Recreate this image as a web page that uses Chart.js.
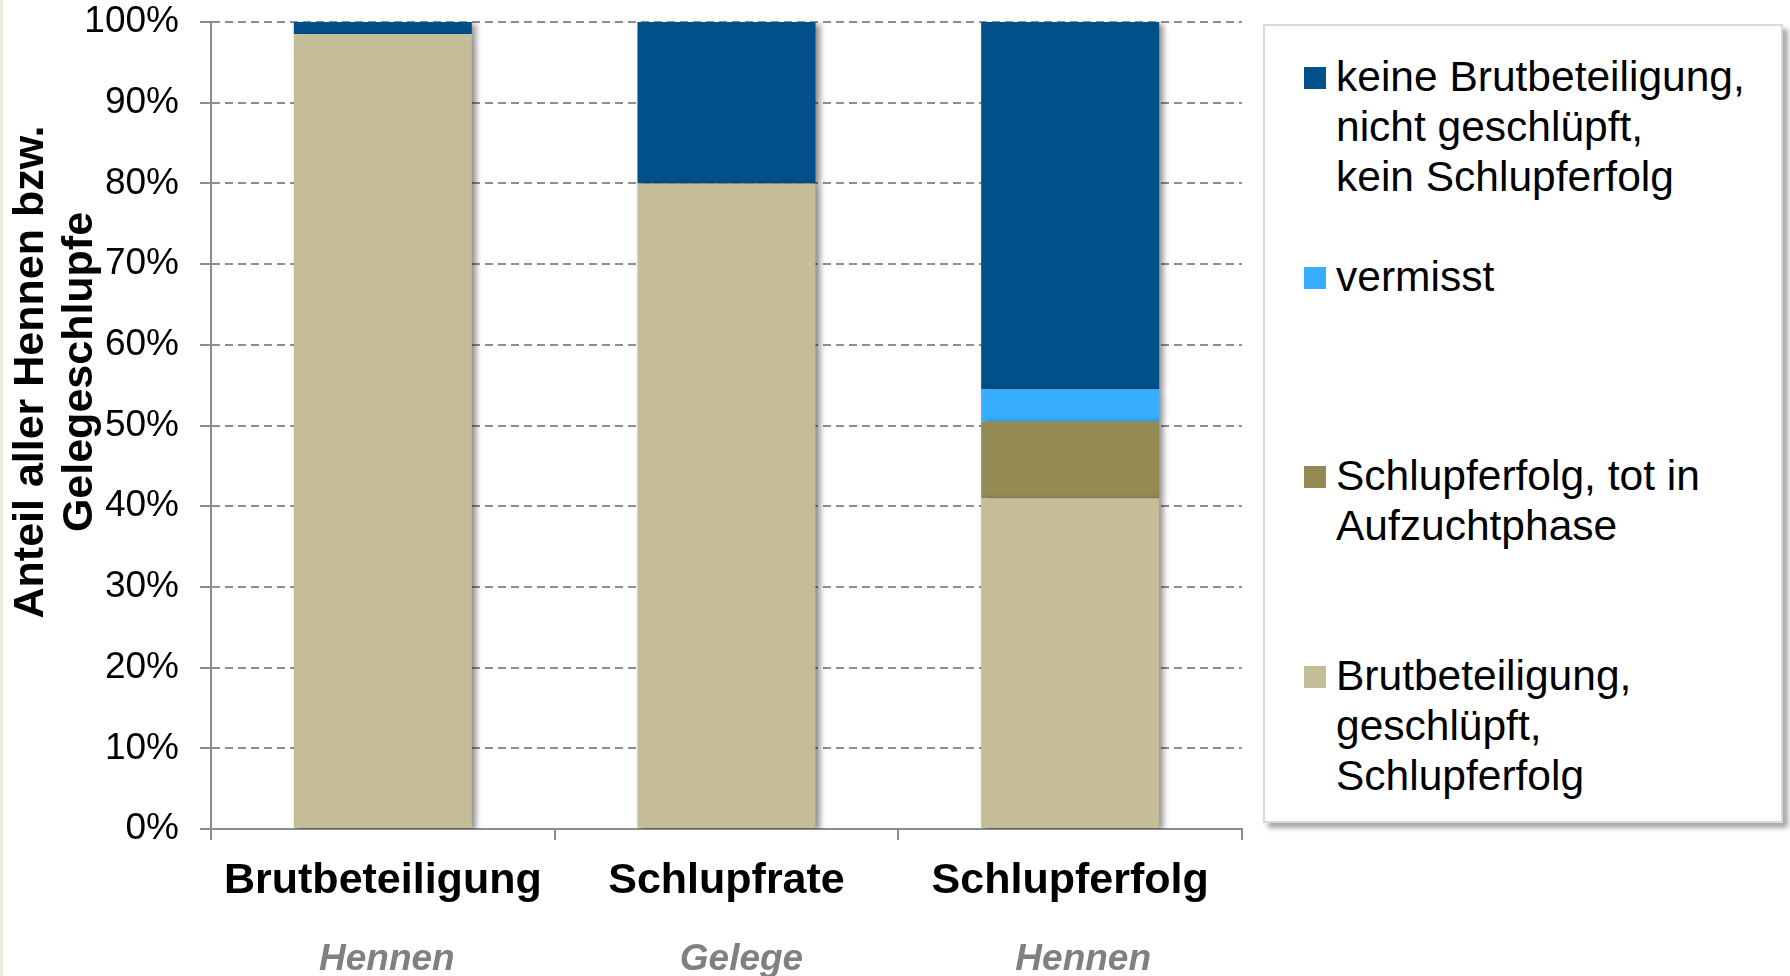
<!DOCTYPE html>
<html>
<head>
<meta charset="utf-8">
<script src="https://cdn.jsdelivr.net/npm/chart.js@4/dist/chart.umd.min.js"></script>
<style>
  html, body { margin: 0; padding: 0; background: #ffffff; }
  #wrap { position: relative; width: 1790px; height: 976px; overflow: hidden; background: #ffffff; font-family: 'Liberation Sans', Arial, sans-serif; }
  #stripe { position: absolute; left: 0; top: 0; width: 3px; height: 976px; background: #efebe0; }
  #legendBox { position: absolute; left: 1263px; top: 24px; width: 520px; height: 799px; box-sizing: border-box; border: 2px solid #d9d9d9; background: #fff; box-shadow: 5px 5px 5px rgba(0,0,0,0.35); }
  .lg-item { position: absolute; left: 1304px; }
  .lg-sw { position: absolute; left: 0; top: 15px; width: 22px; height: 22px; }
  .lg-txt { position: absolute; left: 32px; top: 0; font-size: 42.5px; line-height: 50px; color: #000; white-space: nowrap; }
  #chartBox { position: absolute; left: 0; top: 0; width: 1790px; height: 976px; }
</style>
</head>
<body>
<div id="wrap">
  <div id="stripe"></div>
  <div id="legendBox"></div>
  <div id="legend"></div>
  <div id="chartBox"><canvas id="c" width="1790" height="976"></canvas></div>
</div>
<script>
// ---- data ----
const categories = ['Brutbeteiligung', 'Schlupfrate', 'Schlupferfolg'];
const subLabels = ['Hennen', 'Gelege', 'Hennen'];
const yTickStep = 10;
const yMin = 0;
const yMax = 100;

const brutGeschluepftErfolg = [98.5, 80, 41];
const totInAufzucht = [0, 0, 9.5];
const vermisst = [0, 0, 4];
const keineBrutbeteiligung = [1.5, 20, 45.5];

const labelBrutGeschluepft = ['Brutbeteiligung,', 'geschlüpft,', 'Schlupferfolg'];
const labelTot = ['Schlupferfolg, tot in', 'Aufzuchtphase'];
const labelVermisst = ['vermisst'];
const labelKeine = ['keine Brutbeteiligung,', 'nicht geschlüpft,', 'kein Schlupferfolg'];

const yTitleLines = ['Anteil aller Hennen bzw.', 'Gelegeschlupfe'];

const colTan = '#C4BD97';
const colOlive = '#948A54';
const colLightBlue = '#37AEFF';
const colDarkBlue = '#02508A';

const FONT = "'Liberation Sans', Arial, sans-serif";

const datasets = [
  { label: labelBrutGeschluepft, data: brutGeschluepftErfolg, backgroundColor: colTan },
  { label: labelTot, data: totInAufzucht, backgroundColor: colOlive },
  { label: labelVermisst, data: vermisst, backgroundColor: colLightBlue },
  { label: labelKeine, data: keineBrutbeteiligung, backgroundColor: colDarkBlue }
];

const barShadow = {
  id: 'barShadow',
  beforeDatasetsDraw(chart) {
    const ctx = chart.ctx;
    ctx.save();
    ctx.shadowColor = 'rgba(0,0,0,0.45)';
    ctx.shadowBlur = 6;
    ctx.shadowOffsetX = 4;
    ctx.shadowOffsetY = 2;
  },
  afterDatasetsDraw(chart) {
    chart.ctx.restore();
  }
};

const subLabelShift = [4, 15, 13];

const extraText = {
  id: 'extraText',
  afterDraw(chart) {
    const ctx = chart.ctx;
    const xs = chart.scales.x;
    // sub labels under categories
    ctx.save();
    ctx.font = 'italic bold 37px ' + FONT;
    ctx.fillStyle = '#808080';
    ctx.textAlign = 'center';
    ctx.textBaseline = 'middle';
    subLabels.forEach((s, i) => {
      ctx.fillText(s, xs.getPixelForValue(i) + subLabelShift[i], 960);
    });
    ctx.restore();
    // y axis title
    ctx.save();
    ctx.font = 'bold 43px ' + FONT;
    ctx.fillStyle = '#000';
    ctx.textAlign = 'center';
    ctx.textBaseline = 'middle';
    const xPos = [31, 80];
    yTitleLines.forEach((t, i) => {
      ctx.save();
      ctx.translate(xPos[i], 372);
      ctx.rotate(-Math.PI / 2);
      ctx.fillText(t, 0, 0);
      ctx.restore();
    });
    ctx.restore();
  }
};

const chart = new Chart(document.getElementById('c'), {
  type: 'bar',
  data: { labels: categories, datasets: datasets },
  options: {
    responsive: false,
    devicePixelRatio: 1,
    animation: false,
    layout: { padding: { left: 0, top: 22, right: 548, bottom: 0 } },
    datasets: { bar: { categoryPercentage: 1.0, barPercentage: 0.518, borderWidth: 0 } },
    plugins: {
      legend: { display: false },
      tooltip: { enabled: false },
      title: { display: false }
    },
    scales: {
      x: {
        stacked: true,
        offset: true,
        afterFit(scale) { scale.height = 147; },
        grid: { display: true, drawOnChartArea: false, drawTicks: true, tickLength: 11, offset: true, color: '#8c8c8c', lineWidth: 2 },
        border: { display: true, color: '#8c8c8c', width: 2 },
        ticks: { color: '#000', font: { family: FONT, size: 43, weight: 'bold' }, padding: 15, maxRotation: 0, autoSkip: false }
      },
      y: {
        stacked: true,
        min: yMin,
        max: yMax,
        afterFit(scale) { scale.width = 211; scale.paddingTop = 0; scale.paddingBottom = 0; },
        grid: { color: '#8e8e8e', lineWidth: 2, tickLength: 11, drawTicks: true, tickBorderDash: [], tickColor: '#8c8c8c' },
        border: { display: true, color: '#8c8c8c', width: 2, dash: [8, 5] },
        ticks: { stepSize: yTickStep, color: '#000', font: { family: FONT, size: 37 }, padding: 21, callback: v => v + '%' }
      }
    }
  },
  plugins: [barShadow, extraText]
});

// ---- HTML legend (reverse order, as in the reference) ----
const legendEl = document.getElementById('legend');
const legendTops = [52, 252, 451, 651];
datasets.slice().reverse().forEach((ds, i) => {
  const item = document.createElement('div');
  item.className = 'lg-item';
  item.style.top = legendTops[i] + 'px';
  const sw = document.createElement('div');
  sw.className = 'lg-sw';
  sw.style.background = ds.backgroundColor;
  const txt = document.createElement('div');
  txt.className = 'lg-txt';
  txt.innerHTML = ds.label.join('<br>');
  item.appendChild(sw);
  item.appendChild(txt);
  legendEl.appendChild(item);
});
</script>
</body>
</html>
